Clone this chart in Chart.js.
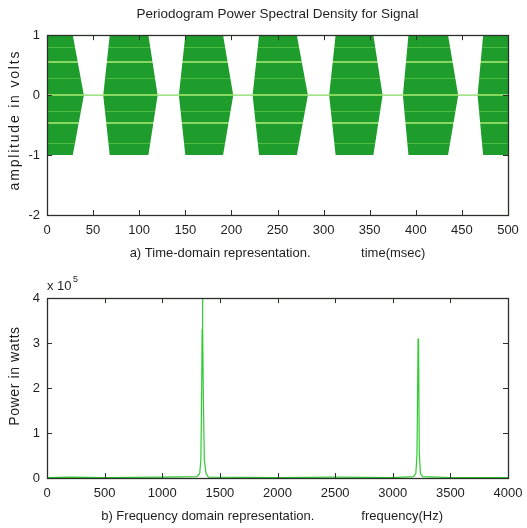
<!DOCTYPE html>
<html>
<head>
<meta charset="utf-8">
<script src="https://cdn.jsdelivr.net/npm/chart.js@4"></script>
<style>
  html, body { margin: 0; padding: 0; background: #fff; }
  #wrap { position: relative; width: 527px; height: 528px; }
  #wrap canvas { position: absolute; left: 0; }
</style>
</head>
<body>
<div id="wrap">
  <canvas id="timeChart" width="527" height="265" style="top:0"></canvas>
  <canvas id="freqChart" width="527" height="263" style="top:265px"></canvas>
</div>
<script>
// envelope of the bursts (ms, volts)
const envTime = [0, 28, 40, 61, 68, 110, 120, 143, 150, 191, 202, 223, 230, 271, 283, 306, 313, 354, 364, 386, 392, 435, 446, 467, 473, 500];
const envAmp  = [1, 1, 0, 0, 1, 1, 0, 0, 1, 1, 0, 0, 1, 1, 0, 0, 1, 1, 0, 0, 1, 1, 0, 0, 1, 1];

// periodogram (Hz, power in units of 10^5 W)
const psdFreq  = [0, 200, 500, 1000, 1300, 1325, 1335, 1342, 1346, 1349, 1352, 1356, 1365, 1380, 1400, 2000, 2500, 3000, 3180, 3200, 3210, 3216, 3220, 3224, 3230, 3240, 3260, 3500, 4000];
const psdPower = [0.01, 0.02, 0.01, 0.02, 0.03, 0.1, 0.4, 1.9, 3.3, 4.0, 3.3, 1.9, 0.4, 0.1, 0.02, 0.01, 0.02, 0.01, 0.03, 0.1, 0.5, 2.0, 3.1, 2.95, 0.6, 0.1, 0.03, 0.01, 0.01];

const timeTicks = [0, 50, 100, 150, 200, 250, 300, 350, 400, 450, 500];
const ampTicks = [-2, -1, 0, 1];
const freqTicks = [0, 500, 1000, 1500, 2000, 2500, 3000, 3500, 4000];
const powerTicks = [0, 1, 2, 3, 4];

const FONT = 'Liberation Sans';
const INK = '#1e1e1e';
const DARK = '#1f9d2c';
const LIGHT = '#86d860';
const MID = '#4dbb40';
const stripeLevels = [0.8, 0.55, 0.27, 0, -0.27, -0.47, -0.8];

Chart.defaults.font.family = FONT;
Chart.defaults.font.size = 13;
Chart.defaults.color = INK;

// matlab-like box with inward ticks, exponent label and spaced y title
const boxPlugin = {
  id: 'box',
  afterDatasetsDraw(chart) {
    const { ctx, chartArea: a, scales } = chart;
    const opts = chart.options.plugins.box || {};
    ctx.save();
    ctx.strokeStyle = '#2a2f2a';
    ctx.lineWidth = 1;
    ctx.beginPath();
    scales.x.ticks.forEach(t => {
      const px = Math.round(scales.x.getPixelForValue(t.value)) + 0.5;
      ctx.moveTo(px, a.bottom); ctx.lineTo(px, a.bottom - 5);
      ctx.moveTo(px, a.top); ctx.lineTo(px, a.top + 5);
    });
    scales.y.ticks.forEach(t => {
      const py = Math.round(scales.y.getPixelForValue(t.value)) + 0.5;
      ctx.moveTo(a.left, py); ctx.lineTo(a.left + 5, py);
      ctx.moveTo(a.right, py); ctx.lineTo(a.right - 5, py);
    });
    ctx.stroke();
    ctx.lineWidth = 1.3;
    ctx.strokeRect(Math.round(a.left) + 0.5, Math.round(a.top) + 0.5, Math.round(a.right - a.left), Math.round(a.bottom - a.top));
    ctx.fillStyle = INK;
    if (opts.exponent) {
      ctx.font = '13px ' + FONT;
      ctx.textBaseline = 'alphabetic';
      ctx.textAlign = 'left';
      ctx.fillText('x 10', a.left, a.top - 8);
      ctx.font = '9px ' + FONT;
      ctx.fillText(opts.exponent, a.left + 26, a.top - 16);
    }
    if (opts.yTitle) {
      ctx.font = opts.yTitleSize + 'px ' + FONT;
      ctx.letterSpacing = opts.yTitleSpacing + 'px';
      ctx.textAlign = 'center';
      ctx.textBaseline = 'middle';
      ctx.translate(15, (a.top + a.bottom) / 2 + (opts.yTitleShift || 0));
      ctx.rotate(-Math.PI / 2);
      ctx.fillText(opts.yTitle, 0, 0);
    }
    ctx.restore();
  }
};

function fixedX(h) { return { afterFit(s) { s.height = h; s.paddingLeft = 0; s.paddingRight = 0; } }; }
function fixedY(w) { return { afterFit(s) { s.width = w; s.paddingTop = 0; s.paddingBottom = 0; } }; }
const plainTick = v => String(v);

function stripeFill(context) {
  const chart = context.chart;
  const a = chart.chartArea;
  if (!a) return DARK;
  const ys = chart.scales.y;
  const h = a.bottom - a.top;
  const g = chart.ctx.createLinearGradient(0, a.top, 0, a.bottom);
  g.addColorStop(0, DARK);
  stripeLevels.forEach(v => {
    const p = (ys.getPixelForValue(v) - a.top) / h;
    const strong = (v === 0.55 || v === -0.47 || v === 0);
    const w = strong ? 0.0045 : 0.003;
    const c = strong ? LIGHT : MID;
    g.addColorStop(p - w, DARK);
    g.addColorStop(p - w, c);
    g.addColorStop(p + w, c);
    g.addColorStop(p + w, DARK);
  });
  g.addColorStop(1, DARK);
  return g;
}

new Chart(document.getElementById('timeChart'), {
  type: 'line',
  data: {
    datasets: [
      {
        data: envTime.map((t, i) => ({ x: t, y: envAmp[i] })),
        borderWidth: 0, pointRadius: 0, fill: false, backgroundColor: stripeFill
      },
      {
        data: envTime.map((t, i) => ({ x: t, y: -envAmp[i] })),
        borderWidth: 0, pointRadius: 0, fill: '-1', backgroundColor: stripeFill
      },
      {
        data: [{ x: 0, y: 0 }, { x: 500, y: 0 }],
        borderColor: LIGHT, borderWidth: 1.2, pointRadius: 0, fill: false
      }
    ]
  },
  options: {
    responsive: false,
    animation: false,
    layout: { padding: { left: 0, right: 19, top: 0, bottom: 0 } },
    plugins: {
      legend: { display: false },
      tooltip: { enabled: false },
      title: {
        display: true,
        fullSize: false,
        text: 'Periodogram Power Spectral Density for Signal',
        font: { size: 13.5, weight: 'normal' },
        color: INK,
        padding: { top: 6, bottom: 13 }
      },
      box: { yTitle: 'amplitude in volts', yTitleSize: 14, yTitleSpacing: 1.8, yTitleShift: -5 }
    },
    scales: {
      x: {
        type: 'linear', min: 0, max: 500,
        afterBuildTicks(s) { s.ticks = timeTicks.map(v => ({ value: v })); },
        grid: { display: false, drawTicks: false }, border: { display: false },
        ticks: { padding: 8, maxRotation: 0, callback: plainTick },
        title: { display: true, text: 'a) Time-domain representation.              time(msec)', padding: { top: 0, bottom: 4 } },
        ...fixedX(50)
      },
      y: {
        type: 'linear', min: -2, max: 1,
        afterBuildTicks(s) { s.ticks = ampTicks.map(v => ({ value: v })); },
        grid: { display: false, drawTicks: false }, border: { display: false },
        ticks: { padding: 7, callback: plainTick },
        ...fixedY(47)
      }
    }
  },
  plugins: [boxPlugin]
});

new Chart(document.getElementById('freqChart'), {
  type: 'line',
  data: {
    datasets: [{
      data: psdFreq.map((f, i) => ({ x: f, y: psdPower[i] })),
      borderColor: '#2fcb2f', borderWidth: 1.2, pointRadius: 0, fill: false, tension: 0
    }]
  },
  options: {
    responsive: false,
    animation: false,
    layout: { padding: { left: 0, right: 19, top: 33, bottom: 0 } },
    plugins: {
      legend: { display: false },
      tooltip: { enabled: false },
      box: { exponent: '5', yTitle: 'Power in watts', yTitleSize: 14, yTitleSpacing: 0.6, yTitleShift: -12 }
    },
    scales: {
      x: {
        type: 'linear', min: 0, max: 4000,
        afterBuildTicks(s) { s.ticks = freqTicks.map(v => ({ value: v })); },
        grid: { display: false, drawTicks: false }, border: { display: false },
        ticks: { padding: 8, maxRotation: 0, callback: plainTick },
        title: { display: true, text: 'b) Frequency domain representation.             frequency(Hz)   ', padding: { top: 0, bottom: 4 } },
        ...fixedX(50)
      },
      y: {
        type: 'linear', min: 0, max: 4,
        afterBuildTicks(s) { s.ticks = powerTicks.map(v => ({ value: v })); },
        grid: { display: false, drawTicks: false }, border: { display: false },
        ticks: { padding: 7, callback: plainTick },
        ...fixedY(47)
      }
    }
  },
  plugins: [boxPlugin]
});
</script>
</body>
</html>
